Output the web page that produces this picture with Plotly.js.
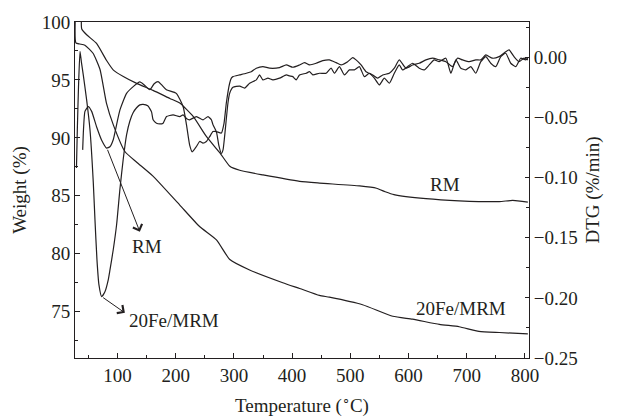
<!DOCTYPE html>
<html>
<head>
<meta charset="utf-8">
<script src="https://cdn.plot.ly/plotly-3.0.1.min.js"></script>
<style>html,body{margin:0;padding:0;background:#fff;}#chart{width:617px;height:417px;}</style>
</head>
<body>
<div id="chart"></div>
<script>
// TG curves (weight %) vs temperature (°C)
const tgRmT = [38, 38.6, 47, 64, 81, 93, 110, 133, 161, 190, 207, 230, 253, 276, 293, 310, 350, 413, 447, 516, 545, 560, 575, 630, 687, 756, 779, 805];
const tgRmW = [100.5, 99.4, 98.9, 98.15, 96.7, 95.85, 95.3, 94.7, 94.1, 93.4, 93.0, 91.85, 90.1, 88.7, 87.55, 87.2, 86.8, 86.25, 86.1, 85.85, 85.65, 85.35, 85.1, 84.75, 84.57, 84.5, 84.6, 84.46];

const tgFeT = [27.5, 28.5, 35, 44, 58, 70, 81, 93, 113, 133, 161, 207, 241, 270, 293, 327, 384, 413, 447, 464, 521, 573, 607, 653, 687, 721, 756, 805];
const tgFeW = [100.5, 98.2, 98.1, 98.0, 97.3, 95.9, 93.0, 91.1, 88.8, 87.9, 86.7, 84.2, 82.35, 81.2, 79.5, 78.6, 77.5, 77.0, 76.4, 76.25, 75.6, 74.6, 74.35, 73.9, 73.7, 73.3, 73.2, 73.08];

// DTG curves (%/min) vs temperature (°C)
const dtgRmT = [40.2, 41.6, 44.1, 49.8, 55.6, 64.2, 72.8, 81.3, 87, 92.7, 98.5, 104.1, 115.6, 127, 138.4, 146, 155.6, 163, 169.8, 176, 184, 201, 212.7, 218.5, 224, 228.4, 235.6, 241.3, 246.9, 252.7, 258.4, 264.1, 269.9, 278.5, 283, 287, 292.7, 295.6, 298.4, 309.9, 321.3, 329.9, 338.5, 349.8, 361.3, 378.4, 390, 401.2, 412.7, 421.3, 429.9, 441.3, 452.7, 464.1, 475.6, 484.2, 495.5, 504.1, 509.9, 518.5, 527, 538.4, 547, 555.6, 567, 575.6, 584.1, 595.6, 607, 618.4, 629.9, 641.3, 652.7, 664.2, 675.5, 684.1, 692.7, 704.1, 715.6, 724.2, 732.8, 744.1, 755.6, 767, 772.7, 781.3, 789.9, 798.4, 805];
const dtgRmV = [-0.077, -0.060, -0.045, -0.041, -0.045, -0.058, -0.069, -0.0755, -0.0744, -0.0686, -0.056, -0.044, -0.030, -0.0244, -0.0205, -0.023, -0.027, -0.022, -0.0203, -0.023, -0.027, -0.030, -0.041, -0.056, -0.073, -0.0786, -0.0742, -0.070, -0.0714, -0.070, -0.066, -0.0618, -0.0618, -0.063, -0.055, -0.038, -0.0216, -0.0174, -0.0161, -0.0147, -0.0133, -0.012, -0.0091, -0.0078, -0.0091, -0.0086, -0.0064, -0.0083, -0.0064, -0.0045, -0.0064, -0.005, -0.0028, -0.0022, -0.0045, -0.0064, -0.0037, -0.0003, -0.0022, -0.0064, -0.012, -0.0147, -0.0174, -0.0147, -0.0133, -0.0091, -0.0022, -0.0091, -0.0064, -0.005, -0.0022, -0.0008, -0.0022, -0.0037, -0.0078, -0.0008, -0.0022, -0.0037, -0.0022, -0.0022, 0.0019, -0.0008, 0.0005, 0.0046, 0.0061, 0.0005, -0.0037, -0.0008, -0.0022];

const dtgFeT = [29.5, 31, 33, 35.6, 38, 41.2, 47, 52.7, 58.4, 61.3, 64.7, 68.1, 72.8, 78.4, 84.1, 87, 92.7, 98.5, 104.1, 109.8, 115.6, 121.3, 127, 132.8, 138.4, 144.1, 152, 158.5, 161.2, 167, 172.7, 178.4, 184.2, 195.5, 207, 212.7, 219, 224, 235.6, 247, 255.5, 261.3, 264, 270, 274, 278.5, 281.3, 284, 289.8, 292.7, 298.4, 309.9, 318.4, 327, 338.5, 344.1, 349.8, 358.4, 367, 378.4, 390, 395.6, 401.2, 407, 412.7, 424.2, 429.9, 435.5, 447, 458.5, 467, 472.7, 481.3, 489.9, 498.4, 507, 515.6, 524.1, 532.7, 541.3, 549.9, 558.4, 567, 575.6, 584.1, 589.8, 598.4, 607, 618.4, 627, 635.6, 644.1, 652.7, 664.2, 672.8, 681.3, 689.9, 698.5, 707, 715.6, 724.2, 732.8, 741.3, 749.9, 758.5, 767, 775.6, 784.2, 792.8, 801.3, 805];
const dtgFeV = [-0.092, -0.060, -0.025, 0.005, -0.004, -0.0147, -0.0354, -0.060, -0.104, -0.135, -0.168, -0.189, -0.199, -0.195, -0.185, -0.177, -0.160, -0.139, -0.110, -0.085, -0.0645, -0.053, -0.046, -0.042, -0.0396, -0.0392, -0.0404, -0.0454, -0.052, -0.0548, -0.0554, -0.0548, -0.0493, -0.0479, -0.0493, -0.0479, -0.0512, -0.052, -0.0493, -0.052, -0.0493, -0.052, -0.056, -0.062, -0.073, -0.080, -0.077, -0.066, -0.038, -0.030, -0.025, -0.024, -0.0257, -0.0216, -0.0188, -0.0147, -0.0188, -0.0174, -0.0188, -0.0174, -0.0147, -0.0155, -0.0161, -0.0188, -0.0147, -0.0133, -0.012, -0.0147, -0.0133, -0.0133, -0.0091, -0.0133, -0.0078, -0.0147, -0.0105, -0.0105, -0.0078, -0.0161, -0.0133, -0.0174, -0.023, -0.0174, -0.0216, -0.0133, -0.0064, -0.0105, -0.0078, -0.005, -0.0091, -0.0105, -0.0064, -0.0022, -0.0037, -0.0008, -0.0133, -0.0022, -0.0091, -0.0105, -0.0078, -0.0133, -0.0037, 0.0005, -0.005, -0.0078, 0.0005, 0.0033, -0.005, -0.0078, -0.0008, -0.0022, -0.0008];

const xTicks = [100, 200, 300, 400, 500, 600, 700, 800];
const yTicks = [75, 80, 85, 90, 95, 100];
const y2Ticks = [-0.25, -0.20, -0.15, -0.10, -0.05, 0.00];

const ink = '#231f20';
const FONT = 'Liberation Serif, Times New Roman, serif';
const lineStyle = {color: ink, width: 1.2, shape: 'spline', smoothing: 0.5};

const traces = [
  {x: tgRmT, y: tgRmW, type: 'scatter', mode: 'lines', line: lineStyle, name: 'TG RM', yaxis: 'y'},
  {x: tgFeT, y: tgFeW, type: 'scatter', mode: 'lines', line: lineStyle, name: 'TG 20Fe/MRM', yaxis: 'y'},
  {x: dtgRmT, y: dtgRmV, type: 'scatter', mode: 'lines', line: lineStyle, name: 'DTG RM', yaxis: 'y2'},
  {x: dtgFeT, y: dtgFeV, type: 'scatter', mode: 'lines', line: lineStyle, name: 'DTG 20Fe/MRM', yaxis: 'y2'}
];

const tfont = {family: FONT, size: 19, color: ink};

const layout = {
  width: 617, height: 417,
  margin: {l: 75, r: 88, t: 22, b: 59},
  paper_bgcolor: '#fff', plot_bgcolor: '#fff',
  showlegend: false,
  font: tfont,
  xaxis: {
    range: [27, 807], tickvals: xTicks, ticktext: xTicks.map(String),
    showline: true, mirror: true, linecolor: ink, linewidth: 1,
    ticks: 'inside', ticklen: 5, tickwidth: 1, tickcolor: ink,
    minor: {ticks: 'inside', dtick: 50, tick0: 0, ticklen: 3, tickcolor: ink, tickwidth: 1},
    showgrid: false, zeroline: false, tickfont: tfont,
    title: {text: 'Temperature (<sup>∘</sup>C)', font: tfont, standoff: 13}
  },
  yaxis: {
    range: [71, 100], tickvals: yTicks, ticktext: yTicks.map(String),
    showline: true, linecolor: ink, linewidth: 1,
    ticks: 'inside', ticklen: 5, tickwidth: 1, tickcolor: ink,
    minor: {ticks: 'inside', dtick: 2.5, tick0: 0, ticklen: 3, tickcolor: ink, tickwidth: 1},
    showgrid: false, zeroline: false, tickfont: tfont,
    title: {text: 'Weight (%)', font: tfont, standoff: 10}
  },
  yaxis2: {
    range: [-0.25, 0.0293], overlaying: 'y', side: 'right',
    tickvals: y2Ticks, tickformat: '.2f',
    showline: true, linecolor: ink, linewidth: 1,
    ticks: 'inside', ticklen: 4, tickwidth: 1, tickcolor: ink,
    minor: {ticks: 'inside', dtick: 0.025, tick0: 0, ticklen: 3, tickcolor: ink, tickwidth: 1},
    showgrid: false, zeroline: false, tickfont: tfont,
    title: {text: 'DTG (%/min)', font: tfont, standoff: 8}
  },
  annotations: [
    {xref: 'x', yref: 'y', x: 138.4, y: 81.9, axref: 'x', ayref: 'y', ax: 81.9, ay: 89.1,
     text: '', showarrow: true, arrowhead: 4, arrowsize: 1.9, arrowwidth: 1, arrowcolor: ink},
    {xref: 'x', yref: 'y', x: 112.7, y: 74.9, axref: 'x', ayref: 'y', ax: 72.8, ay: 76.3,
     text: '', showarrow: true, arrowhead: 4, arrowsize: 1.9, arrowwidth: 1, arrowcolor: ink},
    {xref: 'x', yref: 'y', x: 121, y: 80.6, xanchor: 'left', yanchor: 'middle', text: 'RM', showarrow: false, font: tfont},
    {xref: 'x', yref: 'y', x: 117, y: 74.2, xanchor: 'left', yanchor: 'middle', text: '20Fe/MRM', showarrow: false, font: tfont},
    {xref: 'x', yref: 'y', x: 663, y: 85.95, xanchor: 'center', yanchor: 'middle', text: 'RM', showarrow: false, font: tfont},
    {xref: 'x', yref: 'y', x: 690, y: 75.3, xanchor: 'center', yanchor: 'middle', text: '20Fe/MRM', showarrow: false, font: tfont}
  ]
};

Plotly.newPlot('chart', traces, layout, {displayModeBar: false, staticPlot: true});
</script>
</body>
</html>
